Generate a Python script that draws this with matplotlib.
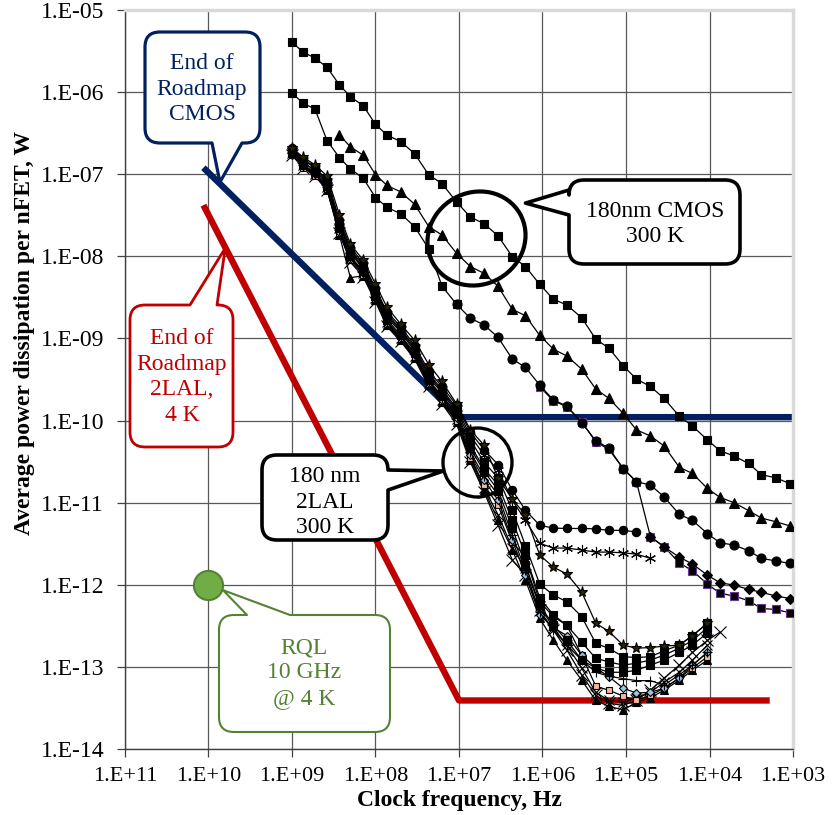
import numpy as np
import matplotlib
matplotlib.use("Agg")
import matplotlib.pyplot as plt
from matplotlib.path import Path
from matplotlib.patches import PathPatch, Ellipse
from matplotlib.transforms import IdentityTransform
from matplotlib.ticker import FuncFormatter, LogLocator, NullLocator

# Frecuencias de reloj comunes a todas las curvas (Hz)
freq = [1.0e9, 7.3e8, 5.3e8, 3.8e8, 2.7e8, 2.0e8, 1.4e8, 1.0e8, 7.3e7, 5.0e7,
        3.4e7, 2.3e7, 1.6e7, 1.07e7, 7.3e6, 5.0e6, 3.4e6, 2.3e6, 1.6e6, 1.08e6,
        7.4e5, 5.1e5, 3.4e5, 2.3e5, 1.6e5, 1.08e5, 7.5e4, 5.1e4, 3.5e4, 2.3e4,
        1.6e4, 1.06e4, 7.5e3, 5.1e3, 3.4e3, 2.4e3, 1.6e3, 1.08e3]

# 180nm CMOS, 300 K  (indice de inicio, potencias en W)
cmos_sq_top = (0, [4.05e-6, 3.05e-6, 2.6e-6, 2.0e-6, 1.22e-6, 8.8e-7, 6.8e-7, 4.05e-7, 3.0e-7, 2.5e-7,
                   1.78e-7, 9.8e-8, 7.7e-8, 4.6e-8, 3.0e-8, 2.5e-8, 1.77e-8, 9.9e-9, 7.5e-9, 4.56e-9,
                   3.0e-9, 2.55e-9, 1.79e-9, 9.8e-10, 7.6e-10, 4.65e-10, 3.2e-10, 2.6e-10, 1.86e-10,
                   1.13e-10, 8.6e-11, 5.8e-11, 4.3e-11, 3.7e-11, 3.0e-11, 2.2e-11, 2.0e-11, 1.7e-11])
cmos_tri = (4, [3.0e-7, 2.16e-7, 1.7e-7, 9.9e-8, 7.3e-8, 6.1e-8, 4.3e-8, 2.3e-8, 1.82e-8, 1.09e-8,
                7.5e-9, 6.2e-9, 4.3e-9, 2.26e-9, 1.89e-9, 1.09e-9, 7.4e-10, 6.1e-10, 4.24e-10,
                2.42e-10, 1.86e-10, 1.22e-10, 7.7e-11, 6.5e-11, 4.9e-11, 2.7e-11, 2.27e-11,
                1.49e-11, 1.16e-11, 1.0e-11, 8.0e-12, 6.5e-12, 5.85e-12, 5.2e-12])
cmos_sq_mid = (0, [9.7e-7, 7.3e-7, 6.2e-7, 2.56e-7, 1.59e-7, 1.16e-7, 8.9e-8, 5.2e-8, 3.96e-8, 3.3e-8,
                   2.3e-8, 1.23e-8, 4.35e-9, 2.6e-9])
cmos_circ = (13, [2.6e-9, 1.76e-9, 1.46e-9, 1.03e-9, 5.6e-10, 4.45e-10, 2.7e-10, 1.78e-10, 1.5e-10,
                  9.4e-11, 5.7e-11, 4.6e-11, 2.6e-11, 1.8e-11, 1.64e-11, 1.18e-11, 7.2e-12, 6.1e-12,
                  4.2e-12, 3.25e-12, 3.05e-12, 2.6e-12, 2.1e-12, 1.95e-12, 1.82e-12])
cmos_sq_low = (19, [2.58e-10, 1.74e-10, 1.47e-10, 9.7e-11, 5.5e-11, 4.45e-11, 2.6e-11, 1.8e-11,
                    3.85e-12, 2.9e-12, 1.85e-12, 1.48e-12, 1.02e-12, 7.9e-13, 7.3e-13, 6.4e-13,
                    5.15e-13, 5.0e-13, 4.55e-13])
cmos_dia = (27, [3.85e-12, 2.9e-12, 2.17e-12, 1.79e-12, 1.31e-12, 1.06e-12, 9.9e-13, 8.8e-13,
                 8.1e-13, 7.3e-13, 6.8e-13])

# 180 nm 2LAL, 300 K
lal_star = (0, [2.1e-7, 1.6e-7, 1.3e-7, 9.5e-8, 3.2e-8, 1.4e-8, 9.0e-9, 4.6e-9, 2.4e-9, 1.5e-9,
                9.5e-10, 4.8e-10, 3.0e-10, 1.6e-10, 7.7e-11, 5.0e-11, 2.0e-11, 1.1e-11, 7.1e-12,
                2.3e-12, 1.64e-12, 1.35e-12, 8.2e-13, 3.4e-13, 2.7e-13, 1.84e-13, 1.69e-13,
                1.72e-13, 1.79e-13, 1.84e-13, 2.4e-13, 3.4e-13])
lal_circ = (0, [2.1e-7, 1.5e-7, 1.2e-7, 8.5e-8, 2.8e-8, 1.3e-8, 8.2e-9, 4.1e-9, 2.1e-9, 1.4e-9,
                8.2e-10, 4.0e-10, 2.6e-10, 1.54e-10, 7.2e-11, 4.4e-11, 2.9e-11, 1.42e-11, 8.1e-12,
                5.3e-12, 4.9e-12, 4.85e-12, 4.85e-12, 4.8e-12, 4.6e-12, 4.6e-12, 4.4e-12])
lal_ast = (0, [2.0e-7, 1.5e-7, 1.2e-7, 8.2e-8, 2.6e-8, 1.2e-8, 7.8e-9, 3.9e-9, 2.0e-9, 1.3e-9,
               7.8e-10, 3.7e-10, 2.4e-10, 1.42e-10, 6.5e-11, 3.8e-11, 2.5e-11, 1.07e-11, 6.1e-12,
               3.2e-12, 2.8e-12, 2.8e-12, 2.65e-12, 2.5e-12, 2.5e-12, 2.45e-12, 2.36e-12, 2.1e-12])
lal_sq1 = (0, [2.0e-7, 1.4e-7, 1.1e-7, 8.0e-8, 2.5e-8, 1.15e-8, 7.4e-9, 3.7e-9, 1.9e-9, 1.25e-9,
               7.4e-10, 3.5e-10, 2.3e-10, 1.34e-10, 5.8e-11, 3.1e-11, 2.0e-11, 8.1e-12, 3.0e-12,
               1.02e-12, 7.5e-13, 6.2e-13, 4.1e-13, 1.93e-13, 1.68e-13, 1.33e-13, 1.3e-13,
               1.33e-13, 1.57e-13, 1.84e-13, 2.4e-13, 3.4e-13])
lal_sq2 = (0, [1.9e-7, 1.4e-7, 1.1e-7, 7.6e-8, 2.4e-8, 1.1e-8, 7.0e-9, 3.5e-9, 1.8e-9, 1.2e-9,
               7.0e-10, 3.3e-10, 2.2e-10, 1.27e-10, 5.0e-11, 2.6e-11, 1.64e-11, 6.1e-12, 2.3e-12,
               6.9e-13, 4.3e-13, 3.2e-13, 2.0e-13, 1.27e-13, 1.15e-13, 1.05e-13, 1.11e-13,
               1.21e-13, 1.39e-13, 1.69e-13, 2.1e-13, 3.0e-13])
lal_sq3 = (0, [1.8e-7, 1.3e-7, 1.05e-7, 7.2e-8, 2.2e-8, 1.0e-8, 6.6e-9, 3.3e-9, 1.7e-9, 1.1e-9,
               6.6e-10, 3.1e-10, 2.0e-10, 1.2e-10, 4.6e-11, 2.4e-11, 1.42e-11, 4.9e-12, 1.74e-12,
               5.7e-13, 3.2e-13, 2.1e-13, 1.21e-13, 9.7e-14, 8.6e-14, 8.6e-14, 9.1e-14, 1.05e-13,
               1.21e-13, 1.5e-13, 1.84e-13, 2.6e-13])
lal_plus = (0, [1.8e-7, 1.3e-7, 1.0e-7, 7.0e-8, 2.1e-8, 9.8e-9, 6.4e-9, 3.2e-9, 1.6e-9, 1.05e-9,
                6.4e-10, 3.0e-10, 1.9e-10, 1.14e-10, 4.1e-11, 2.1e-11, 1.24e-11, 4.0e-12, 1.5e-12,
                4.6e-13, 2.8e-13, 1.84e-13, 1.21e-13, 8.6e-14, 7.7e-14, 7.2e-14, 6.8e-14, 6.8e-14,
                6.0e-14, 8.0e-14, 1.05e-13, 1.5e-13])
lal_dia = (0, [1.7e-7, 1.25e-7, 1.0e-7, 6.8e-8, 2.0e-8, 9.4e-9, 6.2e-9, 3.1e-9, 1.55e-9, 1.0e-9,
               6.2e-10, 2.9e-10, 1.8e-10, 1.07e-10, 3.8e-11, 1.88e-11, 1.07e-11, 3.5e-12, 1.31e-12,
               4.3e-13, 3.0e-13, 2.4e-13, 1.39e-13, 9.7e-14, 7.6e-14, 5.5e-14, 4.8e-14, 4.9e-14,
               5.5e-14, 7.3e-14, 1.05e-13, 1.5e-13])
lal_rect = (0, [1.7e-7, 1.2e-7, 9.6e-8, 6.6e-8, 1.9e-8, 9.0e-9, 6.0e-9, 3.0e-9, 1.5e-9, 9.8e-10,
                6.0e-10, 2.8e-10, 1.75e-10, 1.0e-10, 3.5e-11, 1.64e-11, 9.3e-12, 3.3e-12, 2.2e-12,
                6.2e-13, 4.1e-13, 3.2e-13, 1.39e-13, 5.8e-14, 5.2e-14, 4.4e-14, 3.9e-14, 4.5e-14,
                5.5e-14, 7.3e-14, 9.7e-14, 1.33e-13])
lal_tri = (0, [1.9e-7, 1.3e-7, 1.0e-7, 6.5e-8, 1.8e-8, 5.5e-9, 5.8e-9, 2.9e-9, 1.45e-9, 9.5e-10,
               5.8e-10, 2.7e-10, 1.7e-10, 9.6e-11, 3.3e-11, 1.42e-11, 6.1e-12, 2.65e-12, 1.14e-12,
               3.9e-13, 2.1e-13, 1.21e-13, 6.9e-14, 3.9e-14, 3.3e-14, 3.0e-14, 3.7e-14, 4.2e-14,
               5.2e-14, 6.9e-14, 9.1e-14, 1.21e-13])
lal_x1 = (0, [1.7e-7, 1.2e-7, 9.4e-8, 6.4e-8, 1.9e-8, 8.6e-9, 5.6e-9, 2.8e-9, 1.4e-9, 9.2e-10,
              5.6e-10, 2.6e-10, 1.6e-10, 9.1e-11, 3.1e-11, 1.34e-11, 5.3e-12, 2.0e-12, 1.31e-12,
              4.9e-13, 2.8e-13, 1.6e-13, 8.0e-14, 4.5e-14, 3.6e-14, 3.4e-14, 3.9e-14, 5.2e-14,
              7.3e-14, 1.05e-13, 1.5e-13, 2.1e-13, 2.65e-13])
lal_x2 = (0, [1.8e-7, 1.3e-7, 1.0e-7, 7.0e-8, 2.2e-8, 9.6e-9, 6.3e-9, 3.1e-9, 1.6e-9, 1.0e-9,
              6.1e-10, 2.9e-10, 1.8e-10, 1.04e-10, 3.6e-11, 1.5e-11, 7.1e-12, 2.8e-12, 1.6e-12,
              5.5e-13, 3.0e-13, 1.84e-13, 9.7e-14, 4.9e-14, 3.9e-14, 3.7e-14, 4.2e-14, 4.9e-14,
              6.5e-14, 8.6e-14, 1.21e-13, 1.84e-13])

# Fin del roadmap
roadmap_cmos_f = [1.15e10, 1.0e7, 1.0e3]
roadmap_cmos_p = [1.2e-7, 1.1e-10, 1.1e-10]
roadmap_lal_f = [1.15e10, 1.0e7, 1.9e3]
roadmap_lal_p = [4.2e-8, 3.9e-14, 3.9e-14]
rql_f, rql_p = 1.0e10, 1.0e-12

W, H = 838, 815
SERIF = "Liberation Serif"
NAVY, RED, GREEN = "#002060", "#C00000", "#548235"

fig = plt.figure(figsize=(W / 100, H / 100), dpi=100)
ax = fig.add_axes([125 / W, 1 - 749 / H, 668 / W, 739 / H])
ax.set_xscale("log")
ax.set_yscale("log")
ax.set_xlim(1e11, 1e3)
ax.set_ylim(1e-14, 1e-5)


def serie(datos, marker, ms=6, mfc="black", mec="black", z=3, lw=0.9):
    i0, vals = datos
    ax.plot(freq[i0:i0 + len(vals)], vals, color="black", lw=lw, marker=marker, ms=ms,
            mfc=mfc, mec=mec, mew=0.8, zorder=z)


# lineas de roadmap
ax.plot(roadmap_lal_f, roadmap_lal_p, color=RED, lw=4.6, solid_capstyle="butt", zorder=2)
ax.plot(roadmap_cmos_f, roadmap_cmos_p, color=NAVY, lw=4.6, solid_capstyle="butt", zorder=2)

# 2LAL
serie(lal_x1, "x", ms=8)
serie(lal_x2, "x", ms=7)
serie(lal_tri, "^", ms=6)
serie(lal_rect, "s", ms=5, mfc="#F4B6A0")
serie(lal_dia, "D", ms=4.5, mfc="#9DC3E6")
serie(lal_plus, "+", ms=7)
serie(lal_sq3, "s", ms=6)
serie(lal_sq2, "s", ms=6)
serie(lal_sq1, "s", ms=6)
serie(lal_ast, (6, 2, 0), ms=8)
serie(lal_circ, "o", ms=6)
serie(lal_star, "*", ms=8, mfc="#2a2200")

# CMOS
serie(cmos_sq_low, "s", ms=6, mec="#7030A0")
serie(cmos_dia, "D", ms=5)
serie(cmos_circ, "o", ms=6.5)
serie(cmos_sq_mid, "s", ms=6)
serie(cmos_tri, "^", ms=7)
serie(cmos_sq_top, "s", ms=6)

# punto RQL
ax.plot([rql_f], [rql_p], "o", ms=21, mfc="#70AD47", mec=GREEN, mew=1.5, zorder=5)


# ejes
def fmt(v, pos):
    e = int(round(np.log10(v)))
    return f"1.E{e:+03d}"


for eje in (ax.xaxis, ax.yaxis):
    eje.set_major_locator(LogLocator(base=10, numticks=20))
    eje.set_minor_locator(NullLocator())
    eje.set_major_formatter(FuncFormatter(fmt))
ax.tick_params(axis="both", which="major", direction="out", length=6, width=0.9,
               color="#404040")
ax.tick_params(axis="y", labelsize=17, pad=9)
ax.tick_params(axis="x", labelsize=16, pad=7)
for lab in ax.get_xticklabels() + ax.get_yticklabels():
    lab.set_family(SERIF)
ax.grid(True, which="major", color="#595959", lw=0.9)
ax.set_axisbelow(True)
for s in ("left", "bottom"):
    ax.spines[s].set_color("#404040")
    ax.spines[s].set_linewidth(1.0)
for s in ("top", "right"):
    ax.spines[s].set_color("#D9D9D9")
    ax.spines[s].set_linewidth(2.5)

ax.set_xlabel("Clock frequency, Hz", fontsize=17, fontweight="bold", family=SERIF)
ax.set_ylabel("Average power dissipation per nFET, W", fontsize=17, fontweight="bold", family=SERIF)
ax.xaxis.set_label_coords(0.5, -0.07)
ax.xaxis.label.set_va("center")
ax.yaxis.set_label_coords(-0.15, 0.563)
ax.yaxis.label.set_va("center")


# globos de texto (coordenadas en pixeles de imagen, origen arriba a la izquierda)
def a_px(f, p):
    x, y = ax.transData.transform((f, p))
    return (x, H - y)


def globo(caja, lado, base, punta, ec, lw, r=15):
    x0, y0, x1, y1 = caja
    b0, b1 = base
    v, c = [(x0 + r, y0)], [Path.MOVETO]

    def L(x, y):
        v.append((x, y)); c.append(Path.LINETO)

    def Q(cx, cy, x, y):
        v.extend([(cx, cy), (x, y)]); c.extend([Path.CURVE3, Path.CURVE3])

    if lado == "top":
        L(b0, y0); L(*punta); L(b1, y0)
    L(x1 - r, y0); Q(x1, y0, x1, y0 + r)
    if lado == "right":
        L(x1, b0); L(*punta); L(x1, b1)
    L(x1, y1 - r); Q(x1, y1, x1 - r, y1)
    if lado == "bottom":
        L(b1, y1); L(*punta); L(b0, y1)
    L(x0 + r, y1); Q(x0, y1, x0, y1 - r)
    if lado == "left":
        L(x0, b1); L(*punta); L(x0, b0)
    L(x0, y0 + r); Q(x0, y0, x0 + r, y0)
    v.append((0, 0)); c.append(Path.CLOSEPOLY)
    v = [(x, H - y) for x, y in v]
    fig.add_artist(PathPatch(Path(v, c), facecolor="white", edgecolor=ec, lw=lw,
                             transform=IdentityTransform(), zorder=6, joinstyle="round"))


def texto(x, y, s, color):
    fig.text(x / W, 1 - y / H, s, ha="center", va="center", fontsize=17, color=color,
             family=SERIF, linespacing=1.28, zorder=7)


def elipse(x, y, w, h, ang, lw):
    fig.add_artist(Ellipse((x, H - y), w, h, angle=ang, fill=False, edgecolor="black", lw=lw,
                           transform=IdentityTransform(), zorder=6))


globo((145, 32, 260, 143), "bottom", (212, 242), a_px(7.3e9, 8.0e-8), NAVY, 2.3)
texto(202, 89, "End of\nRoadmap\nCMOS", NAVY)

globo((130, 305, 233, 447), "top", (190, 217), a_px(6.3e9, 1.26e-8), RED, 2.0)
texto(182, 377, "End of\nRoadmap\n2LAL,\n4 K", RED)

elipse(476.5, 238.5, 100, 92, 30, 3.0)
globo((569, 180, 740, 264), "left", (190, 215), a_px(1.6e6, 4.45e-8), "black", 2.6)
texto(655, 224, "180nm CMOS\n300 K", "black")

elipse(477.5, 462.5, 69, 69, 0, 2.4)
globo((262, 455, 388, 540), "right", (470, 490), a_px(1.54e7, 2.43e-11), "black", 2.6)
texto(325, 502, "180 nm\n2LAL\n300 K", "black")

globo((219, 615, 390, 732), "top", (247, 290), a_px(6.7e9, 8.6e-13), GREEN, 1.5)
texto(304, 673, "RQL\n10 GHz\n@ 4 K", GREEN)

fig.savefig("out.png", dpi=100)
